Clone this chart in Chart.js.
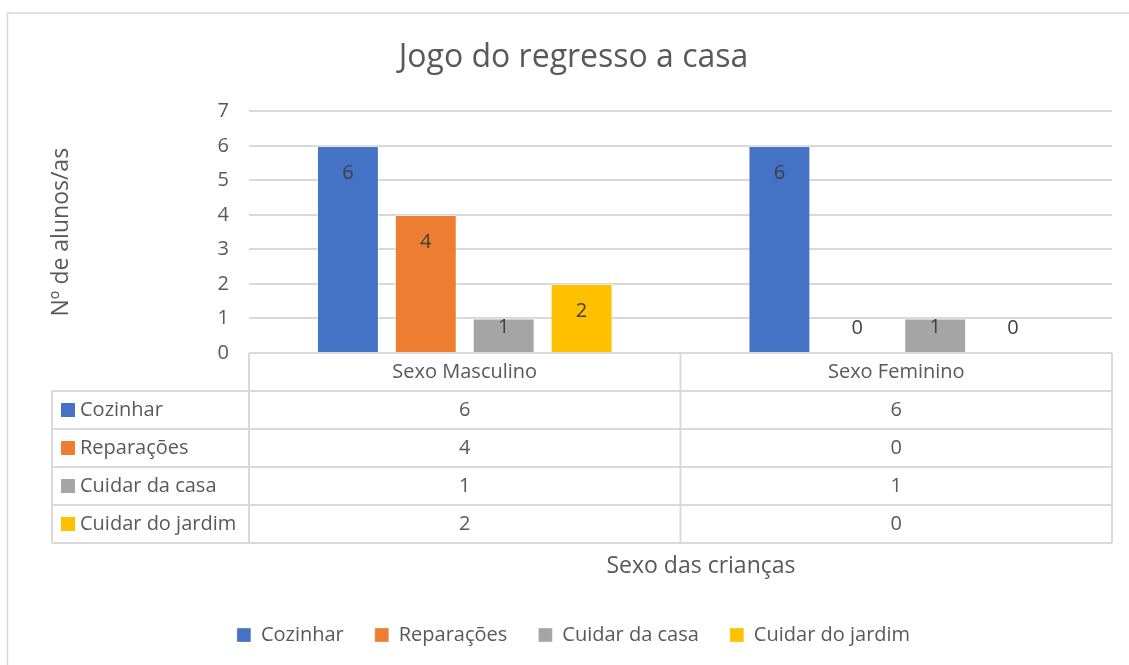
<!DOCTYPE html>
<html>
<head>
<meta charset="utf-8">
<script src="https://cdn.jsdelivr.net/npm/chart.js@4"></script>
<style>
  body { margin: 0; background: #fff; }
  #wrap { width: 1129px; height: 665px; position: relative; }
</style>
</head>
<body>
<div id="wrap"><canvas id="jogo_chart"></canvas></div>
<script>
var categorias = ["Sexo Masculino", "Sexo Feminino"];
var series_nomes = ["Cozinhar", "Reparações", "Cuidar da casa", "Cuidar do jardim"];
var cozinhar = [6, 6];
var reparacoes = [4, 0];
var cuidar_casa = [1, 1];
var cuidar_jardim = [2, 0];
var barColors = ["#4472C4", "#ED7D31", "#A5A5A5", "#FFC000"];

var fonte = "'Open Sans', 'Noto Sans', sans-serif";
var cinza_texto = "#595959";
var cinza_linha = "#d9d9d9";

// rotulos de dados dentro do topo da barra
var rotulosPlugin = {
  id: "rotulos",
  afterDatasetsDraw: function(chart) {
    var ctx = chart.ctx;
    ctx.save();
    ctx.font = "20px " + fonte;
    ctx.fillStyle = "#404040";
    ctx.textAlign = "center";
    ctx.textBaseline = "middle";
    chart.data.datasets.forEach(function(ds, i) {
      var meta = chart.getDatasetMeta(i);
      meta.data.forEach(function(bar, j) {
        var y = Math.min(bar.y + 27, bar.base - 25);
        ctx.fillText(String(ds.data[j]), bar.x, y);
      });
    });
    ctx.restore();
  }
};

// tabela de dados por baixo do eixo + moldura + titulo do eixo x
var tabelaPlugin = {
  id: "tabela",
  afterDraw: function(chart) {
    var ctx = chart.ctx;
    var area = chart.chartArea;
    var xs = chart.scales.x;
    var left = area.left, right = area.right;
    var meio = (xs.getPixelForValue(0) + xs.getPixelForValue(1)) / 2;
    var top = area.bottom;
    var linha = 38;
    var colEsq = 52;
    var nLinhas = series_nomes.length;
    var fundo = top + linha * (nLinhas + 1);

    ctx.save();
    // moldura exterior
    ctx.strokeStyle = cinza_linha;
    ctx.lineWidth = 1.5;
    ctx.strokeRect(7.5, 13, chart.width + 20, chart.height + 20);

    ctx.lineWidth = 2;
    ctx.beginPath();
    ctx.moveTo(left, top); ctx.lineTo(right, top);
    for (var r = 1; r <= nLinhas + 1; r++) {
      var yy = top + linha * r;
      ctx.moveTo(colEsq, yy); ctx.lineTo(right, yy);
    }
    ctx.moveTo(left, top); ctx.lineTo(left, fundo);
    ctx.moveTo(meio, top); ctx.lineTo(meio, fundo);
    ctx.moveTo(right, top); ctx.lineTo(right, fundo);
    ctx.moveTo(colEsq, top + linha); ctx.lineTo(colEsq, fundo);
    ctx.stroke();

    ctx.font = "20px " + fonte;
    ctx.fillStyle = cinza_texto;
    ctx.textBaseline = "middle";
    ctx.textAlign = "center";
    var centros = [(left + meio) / 2, (meio + right) / 2];
    categorias.forEach(function(c, j) {
      ctx.fillText(c, centros[j], top + linha / 2);
    });
    chart.data.datasets.forEach(function(ds, i) {
      var cy = top + linha * (i + 1) + linha / 2;
      ctx.fillStyle = ds.backgroundColor;
      ctx.fillRect(61, cy - 7, 14, 14);
      ctx.fillStyle = cinza_texto;
      ctx.textAlign = "left";
      ctx.fillText(ds.label, 80, cy);
      ctx.textAlign = "center";
      ds.data.forEach(function(v, j) {
        ctx.fillText(String(v), centros[j], cy);
      });
    });

    ctx.font = "23px " + fonte;
    ctx.fillText("Sexo das crianças", 701, 566);
    ctx.restore();
  }
};

var valores = [cozinhar, reparacoes, cuidar_casa, cuidar_jardim];
var datasets = series_nomes.map(function(nome, i) {
  return {
    label: nome,
    data: valores[i],
    backgroundColor: barColors[i],
    borderColor: "rgba(255,255,255,0.35)",
    borderWidth: 1,
    categoryPercentage: 0.722,
    barPercentage: 0.795
  };
});

new Chart("jogo_chart", {
  type: "bar",
  data: { labels: categorias, datasets: datasets },
  plugins: [rotulosPlugin, tabelaPlugin],
  options: {
    responsive: true,
    maintainAspectRatio: false,
    animation: false,
    layout: { padding: { top: 23, left: 35, right: 17, bottom: 10 } },
    plugins: {
      title: {
        display: true,
        text: "Jogo do regresso a casa",
        color: cinza_texto,
        font: { family: fonte, size: 32, weight: "normal" },
        padding: { top: 16, bottom: 34 }
      },
      legend: {
        position: "bottom",
        labels: {
          color: cinza_texto,
          font: { family: fonte, size: 20 },
          boxWidth: 14,
          boxHeight: 14,
          padding: 31
        }
      },
      tooltip: { enabled: false }
    },
    scales: {
      x: {
        grid: { display: false },
        border: { display: false },
        ticks: { display: false },
        afterFit: function(s) {
          var leg = s.chart.legend ? s.chart.legend.height : 0;
          s.height = s.chart.height - 353 - leg - 10;
        }
      },
      y: {
        min: 0,
        max: 7,
        ticks: {
          stepSize: 1,
          color: cinza_texto,
          font: { family: fonte, size: 20 },
          padding: 20
        },
        grid: { color: cinza_linha, lineWidth: 2, drawTicks: false },
        border: { display: false },
        title: {
          display: true,
          text: "Nº de alunos/as",
          color: cinza_texto,
          font: { family: fonte, size: 23 },
          padding: { top: 13, bottom: 0 }
        },
        afterFit: function(s) { s.width = 249 - 35; }
      }
    }
  }
});
</script>
</body>
</html>
